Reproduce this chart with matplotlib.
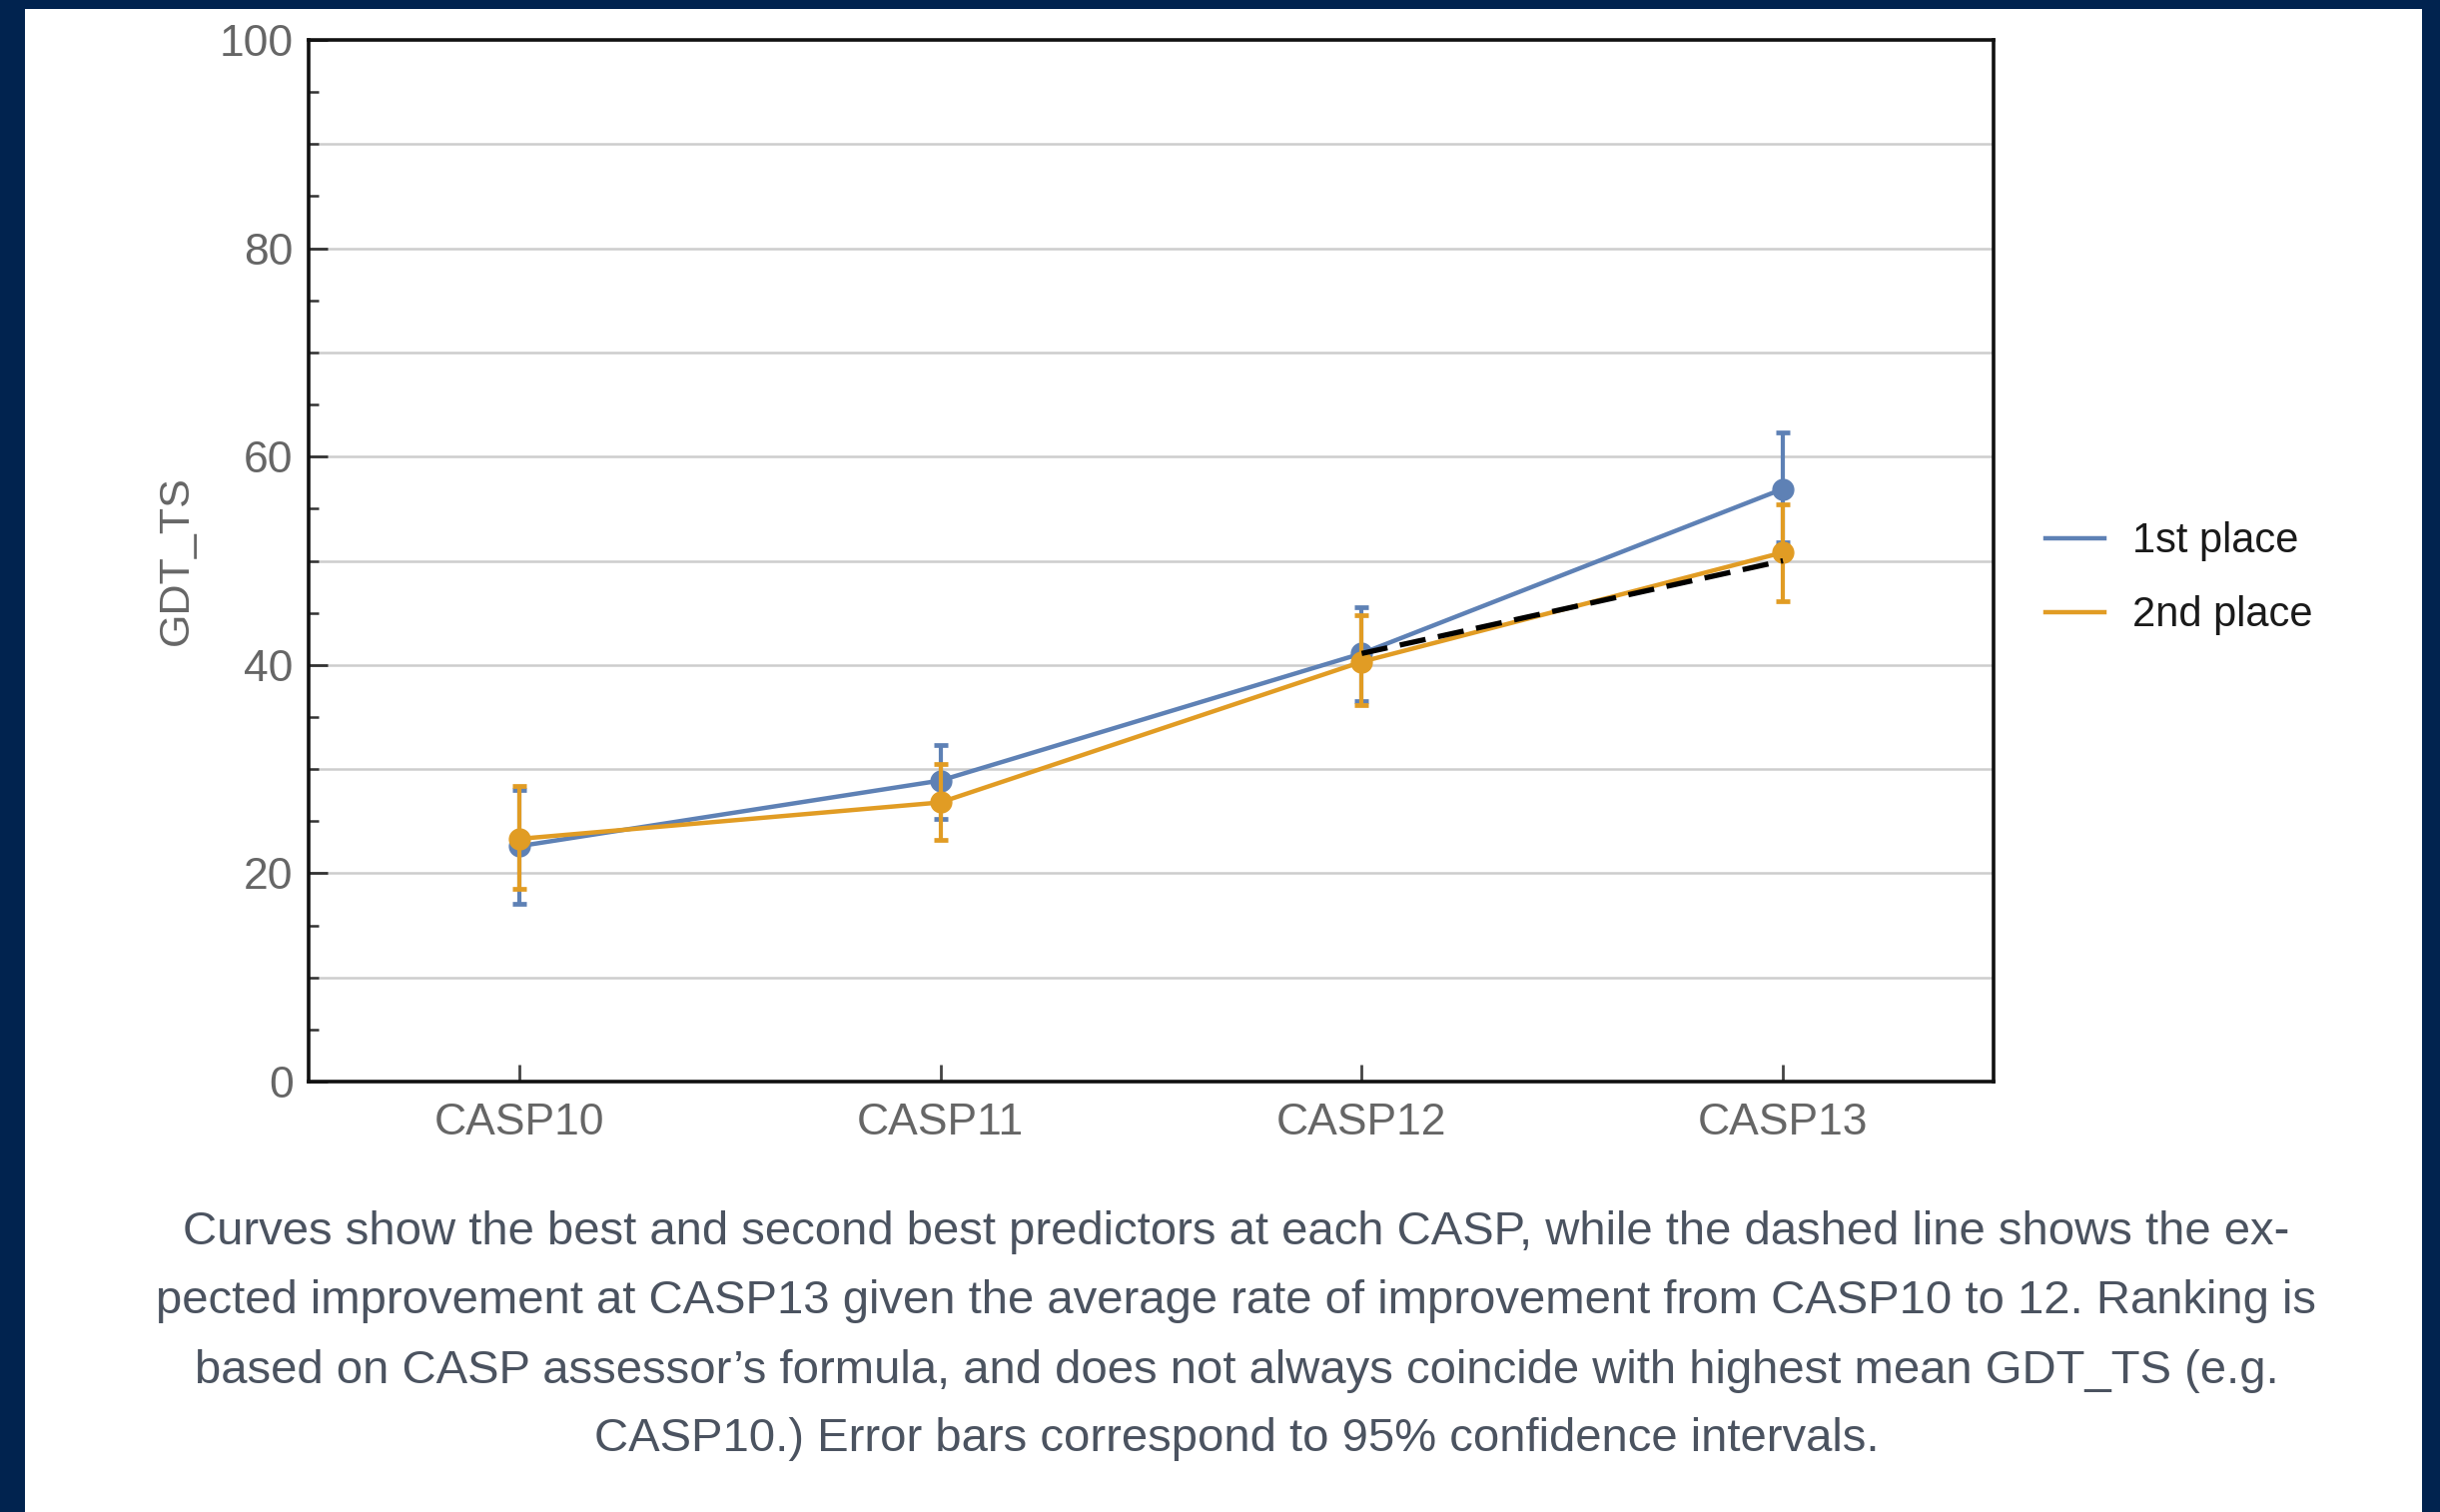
import matplotlib
matplotlib.use("Agg")
import matplotlib.pyplot as plt
from matplotlib.patches import Rectangle
from matplotlib.ticker import MultipleLocator

plt.rcParams['font.family'] = ['Liberation Sans', 'DejaVu Sans']

# ---- data ----
categories = ["CASP10", "CASP11", "CASP12", "CASP13"]
first_mean = [22.6, 28.9, 41.1, 56.9]
first_lo = [17.1, 25.2, 36.5, 51.8]
first_hi = [28.0, 32.3, 45.5, 62.3]
second_mean = [23.3, 26.8, 40.3, 50.8]
second_lo = [18.5, 23.2, 36.1, 46.1]
second_hi = [28.4, 30.5, 44.8, 55.4]
expected_x = ["CASP12", "CASP13"]
expected_y = [41.1, 50.0]
series_labels = ["1st place", "2nd place"]
caption_lines = [
    "Curves show the best and second best predictors at each CASP, while the dashed line shows the ex-",
    "pected improvement at CASP13 given the average rate of improvement from CASP10 to 12. Ranking is",
    "based on CASP assessor\u2019s formula, and does not always coincide with highest mean GDT_TS (e.g.",
    "CASP10.) Error bars correspond to 95% confidence intervals.",
]

W, H = 2443, 1514
fig = plt.figure(figsize=(W / 100, H / 100), dpi=100)
fig.patch.set_facecolor('#01234F')
fig.patches.append(Rectangle((25 / W, 0), (2425 - 25) / W, 1 - 9 / H,
                             transform=fig.transFigure, facecolor='white',
                             edgecolor='none', zorder=-5))

ax = fig.add_axes([309 / W, 1 - 1083 / H, (1996 - 309) / W, (1083 - 40) / H])
ax.set_zorder(3)
ax.set_facecolor('white')

blue = '#5E81B5'
orange = '#E19C24'
x = list(range(len(categories)))
idx = {c: i for i, c in enumerate(categories)}

def draw(mean, lo, hi, color, label, z):
    yerr = [[m - l for m, l in zip(mean, lo)], [h - m for m, h in zip(mean, hi)]]
    ax.errorbar(x, mean, yerr=yerr, fmt='none', ecolor=color, elinewidth=3.0,
                capsize=5, capthick=3.4, zorder=z)
    ax.plot(x, mean, '-', color=color, lw=3.2, zorder=z, label=label)
    ax.plot(x, mean, 'o', color=color, ms=15, zorder=z + 0.1)

draw(first_mean, first_lo, first_hi, blue, series_labels[0], 3)
draw(second_mean, second_lo, second_hi, orange, series_labels[1], 4)
ax.plot([idx[c] for c in expected_x], expected_y, color='black', lw=3.8,
        dashes=(5, 2.4), zorder=5)

ax.set_xlim(-0.5, 3.5)
ax.set_ylim(0, 100)
ax.set_xticks(x)
ax.set_xticklabels(categories)
ax.yaxis.set_major_locator(MultipleLocator(20))
ax.yaxis.set_minor_locator(MultipleLocator(5))
for v in range(10, 100, 10):
    ax.axhline(v, color='#CDCDCD', lw=1.8, zorder=1)

ax.tick_params(axis='y', which='major', direction='in', length=14, width=2,
               color='#333333', labelsize=32, labelcolor='#666666', pad=11, right=False)
ax.tick_params(axis='y', which='minor', direction='in', length=7, width=1.8,
               color='#333333', right=False)
ax.tick_params(axis='x', which='major', direction='in', length=12, width=2,
               color='#444444', labelsize=32, labelcolor='#666666', pad=15, top=False)
for s in ax.spines.values():
    s.set_linewidth(2.6)
    s.set_color('#111111')

ax.set_ylabel('GDT_TS', fontsize=31, color='#666666', labelpad=16)

leg = ax.legend(loc='center left', bbox_to_anchor=(1.031, 0.483), frameon=False,
                fontsize=30, handlelength=1.42, handletextpad=0.65,
                labelspacing=0.82, borderpad=0, borderaxespad=0)
for t in leg.get_texts():
    t.set_color('#1a1a1a')
for h in leg.get_lines():
    h.set_linewidth(3.2)

ys = [1234, 1303, 1373, 1441]
for line, yy in zip(caption_lines, ys):
    fig.text(1238 / W, 1 - yy / H, line, ha='center', va='center',
             fontsize=34, color='#4B5360')

fig.savefig('out.png', dpi=100, facecolor=fig.get_facecolor())
